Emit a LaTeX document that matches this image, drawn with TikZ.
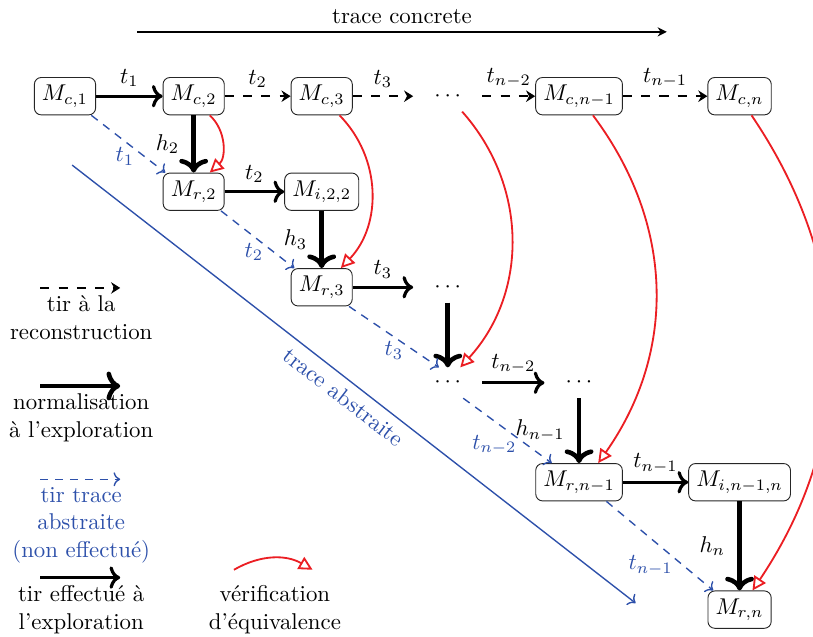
\documentclass[tikz,border=0pt]{standalone}
\usetikzlibrary{arrows.meta}
\definecolor{abstrblue}{RGB}{45,80,170}
\definecolor{verifred}{RGB}{235,30,35}
\begin{document}
\begin{tikzpicture}[
  etat/.style={draw=black!85, rounded corners=3pt, minimum height=0.56cm},
  pts/.style={minimum width=1.05cm, minimum height=0.46cm},
  tir/.style={line width=1.4pt, ->},
  norm/.style={line width=2pt, ->},
  recons/.style={line width=0.9pt, dash pattern=on 4pt off 4pt, -{Stealth[length=4pt,width=5pt]}},
  abstr/.style={abstrblue, line width=0.6pt, dash pattern=on 3.5pt off 3pt, ->},
  verif/.style={verifred, line width=0.8pt, -{Triangle[open,length=6pt,width=6pt]}}
]
\useasboundingbox (0,0) rectangle (12.51,-9.8);

\node[etat] (mc1) at (1.0,-1.48) {$M_{c,1}$};
\node[etat] (mc2) at (2.98,-1.48) {$M_{c,2}$};
\node[etat] (mc3) at (4.95,-1.48) {$M_{c,3}$};
\node[pts] (pc) at (6.89,-1.48) {$\cdots$};
\node[etat] (mcm) at (8.91,-1.48) {$M_{c,n-1}$};
\node[etat] (mcn) at (11.38,-1.48) {$M_{c,n}$};

\node[etat] (mr2) at (2.98,-2.95) {$M_{r,2}$};
\node[etat] (mi2) at (4.95,-2.95) {$M_{i,2,2}$};
\node[etat] (mr3) at (4.95,-4.42) {$M_{r,3}$};
\node[pts] (pi3) at (6.89,-4.42) {$\cdots$};
\node[pts] (pr) at (6.89,-5.89) {$\cdots$};
\node[pts] (pi) at (8.91,-5.89) {$\cdots$};
\node[etat] (mrm) at (8.91,-7.42) {$M_{r,n-1}$};
\node[etat] (mim) at (11.38,-7.42) {$M_{i,n-1,n}$};
\node[etat] (mrn) at (11.38,-9.38) {$M_{r,n}$};

\draw[tir] (mc1) -- node[above]{$t_1$} (mc2);
\draw[recons] (mc2) -- node[above]{$t_2$} (mc3);
\draw[recons] (mc3) -- node[above]{$t_3$} (pc);
\draw[recons] (pc) -- node[above]{$t_{n-2}$} (mcm);
\draw[recons] (mcm) -- node[above]{$t_{n-1}$} (mcn);

\draw[norm] (mc2) -- node[left=2pt]{$h_2$} (mr2);
\draw[tir] (mr2) -- node[above]{$t_2$} (mi2);
\draw[norm] (mi2) -- node[left=2pt]{$h_3$} (mr3);
\draw[tir] (mr3) -- node[above]{$t_3$} (pi3);
\draw[norm] (pi3) -- (pr);
\draw[tir] (pr) -- node[above]{$t_{n-2}$} (pi);
\draw[norm] (pi) -- node[left=2pt]{$h_{n-1}$} (mrm);
\draw[tir] (mrm) -- node[above]{$t_{n-1}$} (mim);
\draw[norm] (mim) -- node[left=2pt]{$h_n$} (mrn);

\draw[abstr] (mc1.-36) -- node[pos=0.72, left=1pt, abstrblue]{$t_1$} (mr2.146);
\draw[abstr] (mr2.-35) -- node[pos=0.72, left=1pt, abstrblue]{$t_2$} (mr3.145);
\draw[abstr] (mr3.-35) -- node[pos=0.72, left=1pt, abstrblue]{$t_3$} (pr.120);
\draw[abstr] (pr.-45) -- node[pos=0.72, left=1pt, abstrblue]{$t_{n-2}$} (mrm.145);
\draw[abstr] (mrm.-35) -- node[pos=0.72, left=1pt, abstrblue]{$t_{n-1}$} (mrn.144);

\draw[verif] (mc2.-50) to[bend left=48] (mr2.50);
\draw[verif] (mc3.-47) to[bend left=44] (mr3.45);
\draw[verif] (pc.-47) to[bend left=42] (pr.51);
\draw[verif] (mcm.-54) to[bend left=36] (mrm.45);
\draw[verif] (mcn.-58) to[bend left=34] (mrn.56);

\coordinate (tc1) at (2.11,-0.49);
\coordinate (tc2) at (10.26,-0.49);
\draw[line width=0.7pt, -{Stealth[length=4pt,width=4pt]}] (tc1) -- node[above]{trace concrete} (tc2);

\coordinate (ta1) at (1.11,-2.54);
\coordinate (ta2) at (9.78,-9.28);
\draw[abstrblue, line width=0.6pt, ->] (ta1) -- node[sloped, below, abstrblue]{trace abstraite} (ta2);

\node[align=center] (lg1) at (1.25,-4.89) {tir à la\\reconstruction};
\node[align=center] (lg2) at (1.25,-6.43) {normalisation\\à l'exploration};
\node[align=center, text=abstrblue] (lg3) at (1.25,-8.08) {tir trace\\abstraite\\(non effectué)};
\node[align=center] (lg4) at (1.25,-9.38) {tir effectué à\\l'exploration};
\node[align=center] (lg5) at (4.23,-9.38) {vérification\\d'équivalence};
\draw[recons] ([xshift=-0.63cm]lg1.north) -- ([xshift=0.6cm]lg1.north);
\draw[norm] ([xshift=-0.63cm]lg2.north) -- ([xshift=0.6cm]lg2.north);
\draw[abstr] ([xshift=-0.63cm]lg3.north) -- ([xshift=0.6cm]lg3.north);
\draw[tir] ([xshift=-0.63cm]lg4.north) -- ([xshift=0.6cm]lg4.north);
\draw[verif] ([shift={(-0.63,0.12)}]lg5.north) to[bend left=30] ([shift={(0.58,0.12)}]lg5.north);
\end{tikzpicture}
\end{document}
